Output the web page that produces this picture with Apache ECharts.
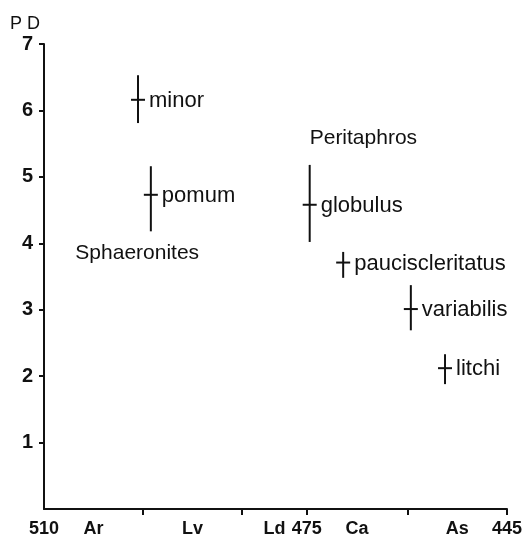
<!DOCTYPE html>
<html>
<head>
<meta charset="utf-8">
<script src="https://cdn.jsdelivr.net/npm/echarts@6/dist/echarts.min.js"></script>
<style>
  html, body { margin: 0; padding: 0; background: #fff; }
  #main { width: 528px; height: 538px; }
</style>
</head>
<body>
<div id="main"></div>
<script>
// stage boundaries (Ma)
let stageBounds = [510, 496.1, 482.2, 473.1, 459.0, 445];
let stageNames = ['Ar', 'Lv', 'Ld', 'Ca', 'As'];
let boundLabelValues = [510, 473.1, 445];
let boundLabelTexts = ['510', '475', '445'];
let yTicks = [1, 2, 3, 4, 5, 6, 7];

// species: age, PD centre, PD low, PD high
let speciesNames = ['minor', 'pomum', 'globulus', 'pauciscleritatus', 'variabilis', 'litchi'];
let speciesAge = [496.8, 495.0, 472.7, 468.0, 458.5, 453.7];
let speciesPD = [6.16, 4.73, 4.58, 3.71, 3.01, 2.12];
let speciesLow = [5.81, 4.18, 4.02, 3.48, 2.69, 1.88];
let speciesHigh = [6.53, 5.16, 5.18, 3.87, 3.37, 2.33];

// genus names
let genusNames = ['Sphaeronites', 'Peritaphros'];
let genusAge = [505.6, 472.7];
let genusPD = [3.85, 5.58];

let stageMids = stageNames.map((n, i) => (stageBounds[i] + stageBounds[i + 1]) / 2);
let xLabelValues = boundLabelValues.concat(stageMids);
let xLabelTexts = boundLabelTexts.concat(stageNames);

let font = '"Liberation Sans", Arial, Helvetica, sans-serif';
let ink = '#111';

let myChart = echarts.init(document.getElementById('main'));

let option = {
    animation: false,
    grid: { left: 44, right: 21, top: 44, bottom: 29 },
    xAxis: {
        type: 'value',
        inverse: true,
        min: 445,
        max: 510,
        splitLine: { show: false },
        axisLine: { lineStyle: { color: ink, width: 2 } },
        axisTick: {
            customValues: stageBounds.slice(1),
            length: 6,
            lineStyle: { color: ink, width: 2 }
        },
        axisLabel: {
            customValues: xLabelValues,
            margin: 11,
            color: ink,
            fontFamily: font,
            fontWeight: 'bold',
            fontSize: 18,
            formatter: function (v) {
                let i = xLabelValues.findIndex(a => Math.abs(a - v) < 0.01);
                return i < 0 ? '' : xLabelTexts[i];
            }
        }
    },
    yAxis: {
        type: 'value',
        min: 0,
        max: 7,
        interval: 1,
        name: 'P D',
        nameLocation: 'end',
        nameGap: 11,
        nameTextStyle: {
            color: ink, fontFamily: font, fontSize: 18,
            align: 'right', padding: [0, 4, 0, 0]
        },
        splitLine: { show: false },
        axisLine: { show: true, lineStyle: { color: ink, width: 2 } },
        axisTick: { show: true, customValues: yTicks, length: 5, lineStyle: { color: ink, width: 2 } },
        axisLabel: {
            customValues: yTicks,
            margin: 11,
            color: ink,
            fontFamily: font,
            fontWeight: 'bold',
            fontSize: 20
        }
    },
    series: [{
        type: 'custom',
        data: speciesNames.map((n, i) => [speciesAge[i], speciesPD[i], speciesLow[i], speciesHigh[i]]),
        renderItem: function (params, api) {
            let c = api.coord([api.value(0), api.value(1)]);
            let top = api.coord([api.value(0), api.value(3)]);
            let bot = api.coord([api.value(0), api.value(2)]);
            return {
                type: 'group',
                children: [
                    { type: 'line', shape: { x1: c[0], y1: top[1], x2: c[0], y2: bot[1] },
                      style: { stroke: ink, lineWidth: 2 } },
                    { type: 'line', shape: { x1: c[0] - 7, y1: c[1], x2: c[0] + 7, y2: c[1] },
                      style: { stroke: ink, lineWidth: 2 } },
                    { type: 'text', x: c[0] + 11, y: c[1] + 1,
                      style: { text: speciesNames[params.dataIndex], font: '22px ' + font,
                               fill: ink, align: 'left', verticalAlign: 'middle' } }
                ]
            };
        }
    }, {
        type: 'custom',
        data: genusNames.map((n, i) => [genusAge[i], genusPD[i]]),
        renderItem: function (params, api) {
            let c = api.coord([api.value(0), api.value(1)]);
            return {
                type: 'text', x: c[0], y: c[1],
                style: { text: genusNames[params.dataIndex], font: '21px ' + font,
                         fill: ink, align: 'left', verticalAlign: 'middle' }
            };
        }
    }]
};

myChart.setOption(option);
</script>
</body>
</html>
